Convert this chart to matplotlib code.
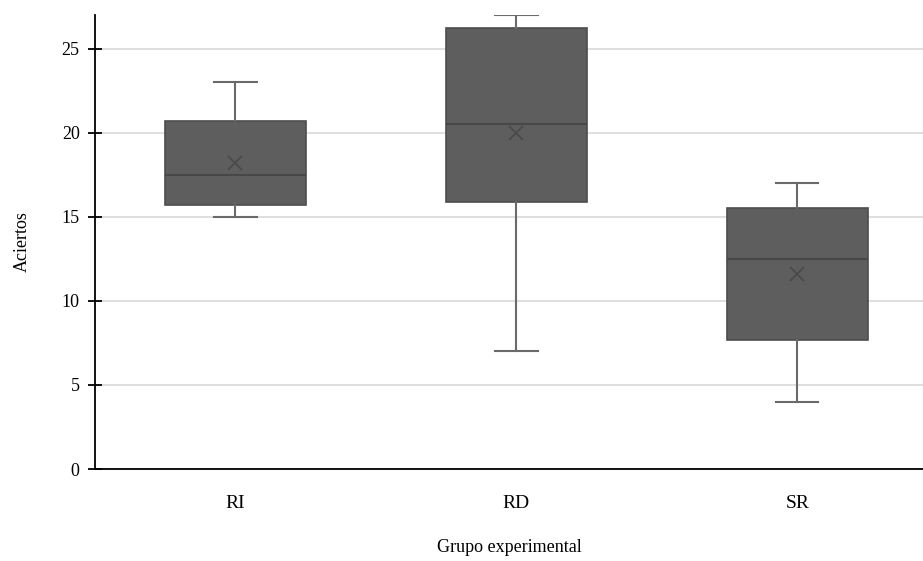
import matplotlib
matplotlib.use("Agg")
import matplotlib.pyplot as plt

categories = ["RI", "RD", "SR"]
whislo = [15, 7, 4]
q1 = [15.7, 15.9, 7.7]
med = [17.5, 20.5, 12.5]
q3 = [20.7, 26.2, 15.5]
whishi = [23, 27, 17]
means = [18.2, 20.0, 11.6]
yticks = [0, 5, 10, 15, 20, 25]

plt.rcParams['font.family'] = ['Liberation Serif', 'DejaVu Serif']

fig = plt.figure(figsize=(9.23, 5.61), dpi=100)
ax = fig.add_axes([95/923, 92/561, 1 - 95/923, (469-15)/561])

stats = []
for i, c in enumerate(categories):
    stats.append(dict(label=c, whislo=whislo[i], q1=q1[i], med=med[i],
                      q3=q3[i], whishi=whishi[i], mean=means[i], fliers=[]))

ax.bxp(stats, positions=range(len(categories)), widths=0.5, patch_artist=True,
       showmeans=True, showfliers=False,
       boxprops=dict(facecolor='#5e5e5e', edgecolor='#4d4d4d', linewidth=1.2),
       medianprops=dict(color='#474747', linewidth=1.5),
       whiskerprops=dict(color='#6a6a6a', linewidth=1.5),
       capprops=dict(color='#6a6a6a', linewidth=1.5),
       capwidths=0.15,
       meanprops=dict(marker='x', markeredgecolor='#4a4a4a', markersize=10, markeredgewidth=1.3))

ax.set_xlim(-0.5, 2.447)
ax.set_ylim(0, 27)
ax.set_yticks(yticks)
ax.yaxis.grid(True, color='#d9d9d9', linewidth=1.2)
ax.set_axisbelow(True)
for s in ['top', 'right']:
    ax.spines[s].set_visible(False)
ax.spines['left'].set_linewidth(1.3)
ax.spines['bottom'].set_linewidth(1.3)
ax.tick_params(axis='y', direction='inout', length=10, width=1.3, labelsize=13, pad=6)
ax.tick_params(axis='x', length=0, labelsize=14, pad=19)
ax.set_ylabel('Aciertos', fontsize=13, labelpad=22)
ax.set_xlabel('Grupo experimental', fontsize=13, labelpad=19)

fig.savefig('out.png', dpi=100)
